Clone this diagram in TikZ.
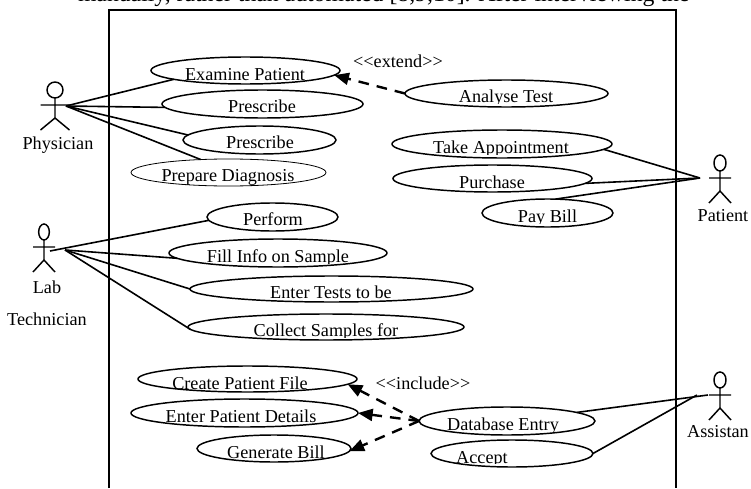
\documentclass[tikz,border=0pt]{standalone}
\usepackage{fontspec}
\setmainfont{Liberation Serif}
\usetikzlibrary{shapes.geometric,arrows.meta}
\tikzset{
  usecase/.style={ellipse,draw=black,line width=1.1pt,inner sep=0pt,outer sep=0pt,minimum width=#1},
  usecase/.default=100,
  lbl/.style={anchor=base,inner sep=0pt,outer sep=0pt,font=\fontsize{13.65pt}{16pt}\selectfont},
  assoc/.style={line width=1.2pt,black},
  dep/.style={line width=1.8pt,black,dash pattern=on 8pt off 6pt,-{Triangle[length=11pt,width=9pt]}},
  stick/.style={line width=1.1pt,black},
  head/.style={ellipse,draw=black,line width=1.1pt,inner sep=0pt,outer sep=0pt,minimum width=#1,minimum height=12pt},
}
\newcommand{\uc}[6]{% name, cx, cy, w(px), h(px), line width
  \node[usecase,line width=#6pt,minimum width=#4*0.75pt,minimum height=#5*0.75pt] (#1) at (#2,#3) {};}
\newcommand{\lab}[6]{% name, x, baseline, clip y, text
  \begin{scope}\clip (0,0) rectangle (751,#4);\node[lbl] (#1) at (#2,#3) {#5#6};\end{scope}}
\newcommand{\actor}[5]{% name, cx, head cy, arm half width, head width(pt)
  \node[head=#5pt] (#1h) at (#2,#3) {};
  \coordinate (#1n) at (#2,#3+15);
  \coordinate (#1w) at (#2,#3+28);
  \coordinate (#1l) at (#2-#4,#3+15);
  \coordinate (#1r) at (#2+#4,#3+15);
  \coordinate (#1a) at (#2-#4,#3+40);
  \coordinate (#1b) at (#2+#4,#3+40);
  \draw[stick] (#1h.south) -- (#1w) -- (#1a) (#1w) -- (#1b) (#1l) -- (#1r);}
\begin{document}
\begin{tikzpicture}[x=0.75pt,y=-0.75pt]
\useasboundingbox (0,0) rectangle (751,489);
\begin{scope}
\clip (0,0) rectangle (751,489);
\node[lbl,anchor=base west,font=\fontsize{17.8pt}{20pt}\selectfont] (top) at (78,1.5) {manually, rather than automated [8,9,10]. After interviewing the};
\end{scope}
\coordinate (bl) at (109,488);
\coordinate (tl) at (109,10);
\coordinate (tr) at (676,10);
\coordinate (br) at (676,488);
\draw[line width=1.3pt] (bl) -- (tl) -- (tr) -- (br);
% texts
\lab{texam}{245}{80}{84}{Examine Patient}{}
\lab{tpre}{262}{113}{118}{Prescribe}{}
\lab{tprb}{260}{148}{154}{Prescribe}{}
\lab{tdia}{228}{181}{184}{Prepare Diagnosis}{}
\lab{tper}{273}{225}{231}{Perform}{}
\lab{tfil}{278}{262}{263.5}{Fill Info on Sample}{}
\lab{tent}{331}{298}{302}{Enter Tests to be}{}
\lab{tcol}{326}{336}{337.5}{Collect Samples for}{}
\lab{tcre}{240}{389}{392}{Create Patient File}{}
\lab{tdet}{241}{422}{427}{Enter Patient Details}{}
\lab{tgen}{276}{458}{458.5}{Generate Bill}{}
\lab{tdb}{503}{430}{431}{Database Entry}{}
\lab{tacc}{482}{463}{463.5}{Accept}{}
\lab{tana}{506}{102}{103}{Analyse Test}{}
\lab{ttak}{501}{153}{154}{Take Appointment}{}
\lab{tpur}{492}{188}{192}{Purchase}{}
\lab{tpay}{547.5}{222}{223}{Pay Bill}{}
\lab{lphy}{58}{149}{489}{Physician}{}
\lab{llab}{47}{293}{489}{Lab}{}
\lab{ltec}{47}{325.5}{324}{Technician}{}
\lab{lpat}{723}{221}{489}{Patient}{}
\lab{lass}{718}{437}{489}{Assistan}{}
\lab{lext}{398}{67}{489}{<{}<extend>{}>}{}
\lab{linc}{423}{389}{489}{<{}<include>{}>}{}
% use cases
\uc{exam}{245.5}{70.5}{189}{27}{1.1}
\uc{pre}{262.5}{104}{201}{28}{1.1}
\uc{prb}{259.5}{140}{153}{28}{1.1}
\uc{dia}{228.5}{172.5}{195}{27}{0.6}
\uc{per}{272.5}{217}{131}{28}{1.1}
\uc{fil}{278}{253}{218}{28}{1.1}
\uc{ent}{331.5}{289}{283}{26}{1.1}
\uc{col}{326}{327}{276}{26}{1.1}
\uc{cre}{247.5}{379}{219}{26}{1.1}
\uc{det}{244.5}{413}{227}{28}{1.1}
\uc{gen}{274}{448.5}{154}{27}{1.1}
\uc{db}{507}{421}{176}{28}{1.1}
\uc{acc}{512}{453.5}{162}{27}{1.1}
\uc{ana}{506.5}{93.5}{203}{27}{1.1}
\uc{tak}{502}{144}{220}{28}{1.1}
\uc{pur}{492.5}{178.5}{199}{27}{1.1}
\uc{pay}{547.5}{213}{131}{28}{1.1}
% actors
\actor{phy}{55}{90}{14.5}{12}
\actor{lb}{44}{232}{11}{8}
\actor{pat}{720}{163}{11}{9}
\actor{as}{720}{380}{11}{9}
% associations
\coordinate (phyh) at (66,106);
\coordinate (lbh) at (65,250);
\coordinate (lbp) at (50,251);
\coordinate (path) at (700,178);
\coordinate (ash) at (708,395);
\coordinate (ash2) at (697,395);
\draw[assoc] (phyh) -- (exam.187);
\draw[assoc] (phyh) -- (pre.182);
\draw[assoc] (phyh) -- (prb.176);
\draw[assoc] (phyh) -- (dia.155.6);
\draw[assoc] (lbp) -- (per.183);
\draw[assoc] (lbh) -- (fil.183);
\draw[assoc] (lbh) -- (ent.180);
\draw[assoc] (lbh) -- (col.181.8);
\draw[assoc] (path) -- (tak.-3.7);
\draw[assoc] (path) -- (pur.-3);
\draw[assoc] (path) -- (pay.60);
\draw[assoc] (ash) -- (db.7.7);
\draw[assoc] (ash2) -- (acc.0);
% dependencies
\draw[dep] (ana.180) -- (exam.-3);
\draw[dep] (db.180) -- (cre.-3);
\draw[dep] (db.180) -- (det.0);
\draw[dep] (db.180) -- (gen.-2);
\end{tikzpicture}
\end{document}
